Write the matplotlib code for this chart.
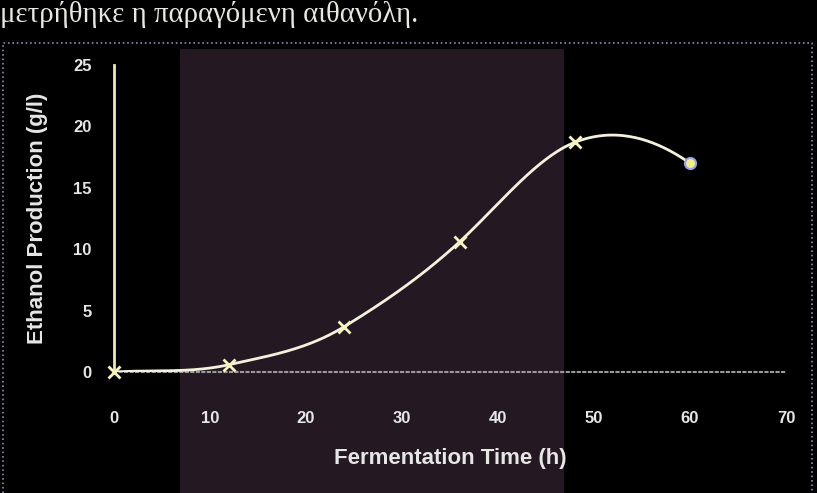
import numpy as np
import matplotlib
matplotlib.use("Agg")
import matplotlib.pyplot as plt
from matplotlib.patches import Rectangle
from matplotlib.lines import Line2D

# data
time_h = [0, 12, 24, 36, 48, 60]
ethanol = [0.0, 0.6, 3.7, 10.6, 18.7, 17.0]
x_ticks = [0, 10, 20, 30, 40, 50, 60, 70]
y_ticks = [0, 5, 10, 15, 20, 25]

caption = "μετρήθηκε η παραγόμενη αιθανόλη."
xlabel = "Fermentation Time (h)"
ylabel = "Ethanol Production (g/l)"

fg = "#e6e6e6"


def smooth(x, y, tension=1.15, n=60):
    # hermite curve through the points, like a spreadsheet "smoothed line"
    x = np.asarray(x, float)
    y = np.asarray(y, float)
    m = np.zeros_like(y)
    m[1:-1] = tension * (y[2:] - y[:-2]) / (x[2:] - x[:-2])
    # ends: slope of parabola through the last three points
    d1 = (y[-1] - y[-2]) / (x[-1] - x[-2])
    d0 = (y[-2] - y[-3]) / (x[-2] - x[-3])
    m[-1] = d1 + (d1 - d0) / (x[-1] - x[-3]) * (x[-1] - x[-2])
    m[0] = max(0.0, (y[1] - y[0]) / (x[1] - x[0]))
    xs, ys = [], []
    for i in range(len(x) - 1):
        h = x[i + 1] - x[i]
        t = np.linspace(0, 1, n)
        h00 = 2 * t**3 - 3 * t**2 + 1
        h10 = t**3 - 2 * t**2 + t
        h01 = -2 * t**3 + 3 * t**2
        h11 = t**3 - t**2
        xs.append(x[i] + t * h)
        ys.append(h00 * y[i] + h10 * h * m[i] + h01 * y[i + 1] + h11 * h * m[i + 1])
    return np.concatenate(xs), np.concatenate(ys)


fig = plt.figure(figsize=(8.17, 4.93), dpi=100)
fig.patch.set_facecolor("black")

# dim purplish band behind the middle of the chart
fig.patches.append(Rectangle((0.22, 0.0), 0.47, 0.9, transform=fig.transFigure,
                             facecolor="#3d2a3a", edgecolor="none", alpha=0.6, zorder=0))
# chart area border
fig.lines.append(Line2D([0.004, 0.004, 0.994, 0.994], [0.0, 0.912, 0.912, 0.0],
                        transform=fig.transFigure, color="#8c8cb4", lw=1.2, ls=":"))

ax = fig.add_axes([0.1395, 0.2454, 0.8225, 0.6228])
ax.set_facecolor("none")
ax.set_zorder(3)

sx, sy = smooth(time_h, ethanol)
ax.plot(sx, sy, color="#f4f2dc", lw=2.0, zorder=3)
ax.plot(time_h[:-1], ethanol[:-1], ls="none", marker="x", ms=8, mew=2,
        color="#f7f3c0", zorder=4, clip_on=False)
ax.plot(time_h[-1:], ethanol[-1:], ls="none", marker="o", ms=8,
        mfc="#f3ec8a", mec="#9aa0e0", mew=1.5, zorder=4, clip_on=False)

ax.set_xlim(0, 70)
ax.set_ylim(0, 25)
ax.set_xticks(x_ticks)
ax.set_yticks(y_ticks)
ax.tick_params(length=0, colors=fg, labelsize=12)
ax.tick_params(axis="x", pad=28)
ax.tick_params(axis="y", pad=16)
for lab in ax.get_xticklabels() + ax.get_yticklabels():
    lab.set_fontfamily("Liberation Sans")
    lab.set_fontweight("bold")

for s in ["top", "right"]:
    ax.spines[s].set_visible(False)
ax.spines["left"].set_color("#ece8b8")
ax.spines["left"].set_linewidth(2)
ax.spines["bottom"].set_color("#9a9a9a")
ax.spines["bottom"].set_linestyle(":")
ax.spines["bottom"].set_linewidth(1.5)

ax.set_xlabel(xlabel, color=fg, fontsize=16, fontweight="bold",
              family="Liberation Sans", labelpad=16)
ax.set_ylabel(ylabel, color=fg, fontsize=16, fontweight="bold",
              family="Liberation Sans", labelpad=18)

fig.text(0.0, 1 - 22 / 493, caption, color="#e8e8e0", fontsize=20.7,
         family=["Liberation Serif", "DejaVu Serif"], va="baseline", ha="left")

fig.savefig("out.png", dpi=100, facecolor=fig.get_facecolor())
